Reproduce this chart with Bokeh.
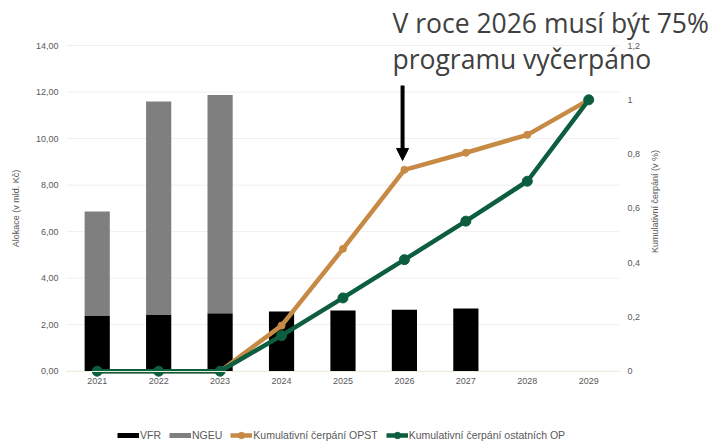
import math
from bokeh.plotting import figure
from bokeh.models import (ColumnDataSource, Range1d, LinearAxis, FixedTicker,
                          Label, Arrow, NormalHead, Legend, LegendItem)
from bokeh.embed import file_html
from bokeh.resources import INLINE

# ---- data ----
years = [2021, 2022, 2023, 2024, 2025, 2026, 2027, 2028, 2029]
vfr = [2.39, 2.44, 2.49, 2.57, 2.61, 2.64, 2.70, 0.0, 0.0]
ngeu = [4.48, 9.16, 9.38, 0.0, 0.0, 0.0, 0.0, 0.0, 0.0]
opst = [0.0, 0.0, 0.0, 0.168, 0.451, 0.742, 0.805, 0.871, 1.0]
ostatni = [0.0, 0.0, 0.0, 0.131, 0.270, 0.411, 0.553, 0.700, 1.0]

left_ticks = [0, 2, 4, 6, 8, 10, 12, 14]
left_labels = ["0,00", "2,00", "4,00", "6,00", "8,00", "10,00", "12,00", "14,00"]
right_ticks = [0, 0.2, 0.4, 0.6, 0.8, 1.0, 1.2]
right_labels = ["0", "0,2", "0,4", "0,6", "0,8", "1", "1,2"]

title1 = "V roce 2026 musí být 75%"
title2 = "programu vyčerpáno"
left_title = "Alokace (v mld. Kč)"
right_title = "Kumulativní čerpání (v %)"
series_names = ["VFR", "NGEU", "Kumulativní čerpání OPST", "Kumulativní čerpání ostatních OP"]

C_VFR = "#000000"
C_NGEU = "#7f7f7f"
C_OPST = "#C68A44"
C_OST = "#0C5E3E"
TXT = "#595959"
FONT = "Liberation Sans"

x_lo, x_hi = years[0] - 0.5, years[-1] + 0.5     # plotting area of the category axis
y_top = left_ticks[-1]
pct_top = right_ticks[-1]

src = ColumnDataSource(dict(years=years, VFR=vfr, NGEU=ngeu, opst=opst, ost=ostatni))

# the frame covers the whole canvas; axes are placed at fixed locations inside it
W, H = 712, 443
PX_X = 61.44          # pixels per year
PX_Y = 23.26          # pixels per left unit
LEFT_PX, BASE_PX = 66, 370.7
p = figure(width=W, height=H, output_backend="svg", toolbar_location=None, title=None,
           x_axis_location=None, y_axis_location=None,
           x_range=Range1d(x_lo - LEFT_PX / PX_X, x_lo + (W - LEFT_PX) / PX_X),
           y_range=Range1d(-(H - BASE_PX) / PX_Y, BASE_PX / PX_Y),
           min_border=0, min_border_left=0, min_border_right=0,
           min_border_top=0, min_border_bottom=0)
k = pct_top / y_top
p.extra_y_ranges = {"pct": Range1d(p.y_range.start * k, p.y_range.end * k)}
p.outline_line_color = None
p.border_fill_color = "white"
p.background_fill_color = "white"
for g in p.grid:
    g.visible = False

# horizontal grid lines across the plotting area
p.segment(x0=[x_lo] * len(left_ticks), x1=[x_hi] * len(left_ticks), y0=left_ticks, y1=left_ticks,
          line_color="#efefef", line_width=1)

bars = p.vbar_stack(["VFR", "NGEU"], x="years", width=0.41, source=src,
                    color=[C_VFR, C_NGEU], line_color=None)

l_opst = p.line("years", "opst", source=src, y_range_name="pct", line_width=4.5, color=C_OPST)
s_opst = p.scatter("years", "opst", source=src, y_range_name="pct", size=7, color=C_OPST)
l_ost = p.line("years", "ost", source=src, y_range_name="pct", line_width=4.5, color=C_OST)
s_ost = p.scatter("years", "ost", source=src, y_range_name="pct", size=10, color=C_OST)


def style(ax):
    ax.major_label_text_font = FONT
    ax.major_label_text_font_size = "9px"
    ax.major_label_text_color = TXT
    ax.major_label_standoff = 8
    ax.major_tick_out = 0
    ax.major_tick_in = 0
    ax.major_tick_line_color = None
    ax.minor_tick_line_color = None
    ax.axis_line_color = None


# left axis
ya = LinearAxis(ticker=FixedTicker(ticks=left_ticks), fixed_location=x_lo, bounds=(0, y_top))
style(ya)
ya.major_label_overrides = {t: s for t, s in zip(left_ticks, left_labels)}
ya.axis_label = left_title
ya.axis_label_text_font = FONT
ya.axis_label_text_font_size = "9px"
ya.axis_label_text_font_style = "normal"
ya.axis_label_text_color = TXT
ya.axis_label_standoff = 12
p.add_layout(ya, "left")

# right axis
ra = LinearAxis(y_range_name="pct", ticker=FixedTicker(ticks=right_ticks), fixed_location=x_hi,
                bounds=(0, pct_top))
style(ra)
ra.major_label_overrides = {t: s for t, s in zip(right_ticks, right_labels)}
p.add_layout(ra, "right")

# x axis
xa = LinearAxis(ticker=FixedTicker(ticks=years), fixed_location=0, bounds=(x_lo, x_hi))
style(xa)
xa.major_label_standoff = 7
xa.axis_line_color = "#e6efda"
p.add_layout(xa, "below")

# right axis title (reads bottom-to-top)
p.add_layout(Label(x=x_hi + 36 / PX_X, y=7.3, text=right_title, angle=math.pi / 2,
                   text_align="center", text_baseline="middle", text_font=FONT,
                   text_font_size="9px", text_color=TXT))

# annotation text
p.add_layout(Label(x=x_lo + 326 / PX_X, y=14.95, text=title1, text_font="Open Sans",
                   text_font_size="26.5px", text_color="#404040",
                   text_baseline="alphabetic", text_align="left"))
p.add_layout(Label(x=x_lo + 326 / PX_X, y=13.42, text=title2, text_font="Open Sans",
                   text_font_size="26.5px", text_color="#404040",
                   text_baseline="alphabetic", text_align="left"))

# arrow pointing at 2026
p.add_layout(Arrow(x_start=years[5] - 0.03, y_start=12.28, x_end=years[5] - 0.03, y_end=9.06,
                   line_width=4, line_color="black",
                   end=NormalHead(size=12, fill_color="black", line_color="black", line_width=1)))

# legend proxies for the bars (no visible data)
nan = float("nan")
pv = p.line(x=[years[0], years[1]], y=[nan, nan], line_width=5, color=C_VFR)
pn = p.line(x=[years[0], years[1]], y=[nan, nan], line_width=5, color=C_NGEU)

legend = Legend(items=[
    LegendItem(label=series_names[0], renderers=[pv]),
    LegendItem(label=series_names[1], renderers=[pn]),
    LegendItem(label=series_names[2], renderers=[l_opst, s_opst]),
    LegendItem(label=series_names[3], renderers=[l_ost, s_ost]),
], location=(117, 0), orientation="horizontal")
legend.label_text_font = FONT
legend.label_text_font_size = "10.5px"
legend.label_text_color = TXT
legend.glyph_width = 22
legend.glyph_height = 16
legend.label_height = 16
legend.label_standoff = 1
legend.spacing = 8
legend.padding = 0
legend.margin = 0
legend.border_line_color = None
legend.background_fill_alpha = 0
p.add_layout(legend)

open("out.html", "w").write(file_html(p, INLINE))
